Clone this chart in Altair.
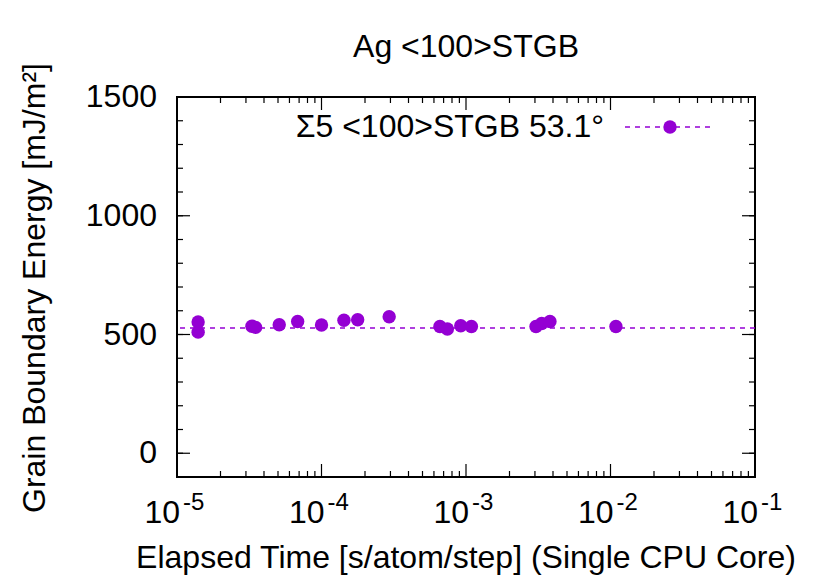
import altair as alt
import pandas as pd

# ---- data ----
elapsed_time = [1.40e-5, 1.40e-5, 3.3e-5, 3.5e-5, 5.1e-5, 6.84e-5, 1.0e-4, 1.43e-4,
                1.78e-4, 2.94e-4, 6.6e-4, 7.43e-4, 9.2e-4, 1.09e-3, 3.05e-3,
                3.34e-3, 3.81e-3, 1.09e-2]
gb_energy = [553, 510, 535, 530, 541, 555, 540, 560, 562, 575, 534, 523, 537,
             534, 534, 546, 555, 534]
reference_energy = 527
series_label = "Σ5 <100>STGB 53.1°"
title_text = "Ag <100>STGB"
x_title = "Elapsed Time [s/atom/step] (Single CPU Core)"
y_title = "Grain Boundary Energy [mJ/m²]"
decades = [1e-5, 1e-4, 1e-3, 1e-2, 1e-1]
decade_exponents = ["-5", "-4", "-3", "-2", "-1"]
y_major = [0, 500, 1000, 1500]
y_major_labels = ["0", "500", "1000", "1500"]
y_minor = list(range(-100, 1501, 100))
x_minor = [m * d for d in decades[:-1] for m in range(2, 10)]

COLOR = "#9400D3"
FONT = "Liberation Sans"
FS = 32
FS_EXP = 24
W, H = 578, 380
MAJ, MIN = 13, 6

xs = alt.Scale(type="log", domain=[1e-5, 1e-1], nice=False)
ys = alt.Scale(domain=[-100, 1500], nice=False, zero=False)

pts = pd.DataFrame({"t": elapsed_time, "e": gb_energy})

refline = alt.Chart(pd.DataFrame({"e": [reference_energy]})).mark_rule(
    color=COLOR, strokeWidth=1.5, strokeDash=[5, 5]
).encode(y=alt.Y("e:Q", scale=ys, axis=None))

points = alt.Chart(pts).mark_circle(size=180, opacity=1, color=COLOR).encode(
    x=alt.X("t:Q", scale=xs, axis=None),
    y=alt.Y("e:Q", scale=ys, axis=None),
)

# inward ticks (gnuplot style, mirrored)
ymin_df = pd.DataFrame({"v": y_minor})
ymaj_df = pd.DataFrame({"v": y_major, "lab": y_major_labels})
xmin_df = pd.DataFrame({"v": x_minor})
xmaj_df = pd.DataFrame({"v": decades, "ex": decade_exponents})

def ytick(df, length, side):
    x0 = 0 if side == "left" else W
    x1 = length if side == "left" else W - length
    return alt.Chart(df).mark_rule(color="black", strokeWidth=1.2).encode(
        y=alt.Y("v:Q", scale=ys, axis=None), x=alt.value(x0), x2=alt.value(x1))

def xtick(df, length, side):
    y0 = H if side == "bottom" else 0
    y1 = H - length if side == "bottom" else length
    return alt.Chart(df).mark_rule(color="black", strokeWidth=1.2).encode(
        x=alt.X("v:Q", scale=xs, axis=None), y=alt.value(y0), y2=alt.value(y1))

ticks = [ytick(ymin_df, MIN, "left"), ytick(ymin_df, MIN, "right"),
         ytick(ymaj_df, MAJ, "left"), ytick(ymaj_df, MAJ, "right"),
         xtick(xmin_df, MIN, "bottom"), xtick(xmin_df, MIN, "top"),
         xtick(xmaj_df, MAJ, "bottom"), xtick(xmaj_df, MAJ, "top")]

# tick labels
ylab = alt.Chart(ymaj_df).mark_text(
    align="right", baseline="middle", font=FONT, fontSize=FS, color="black"
).encode(y=alt.Y("v:Q", scale=ys, axis=None), x=alt.value(-20), text="lab:N")
base_lab = alt.Chart(xmaj_df).mark_text(
    text="10", align="right", baseline="alphabetic", dx=3, font=FONT, fontSize=FS,
    color="black").encode(x=alt.X("v:Q", scale=xs, axis=None), y=alt.value(426))
exp_lab = alt.Chart(xmaj_df).mark_text(
    align="left", baseline="alphabetic", dx=6, font=FONT, fontSize=FS_EXP,
    color="black").encode(x=alt.X("v:Q", scale=xs, axis=None), y=alt.value(413),
                          text="ex:N")

# titles
txt_df = pd.DataFrame({"t": [title_text], "xt": [x_title], "yt": [y_title]})
main_title = alt.Chart(txt_df).mark_text(
    align="center", baseline="alphabetic", font=FONT, fontSize=FS, color="black"
).encode(text="t:N", x=alt.value(W / 2), y=alt.value(-40))
xt = alt.Chart(txt_df).mark_text(
    align="center", baseline="alphabetic", font=FONT, fontSize=FS, color="black"
).encode(text="xt:N", x=alt.value(W / 2), y=alt.value(471))
yt = alt.Chart(txt_df).mark_text(
    align="center", baseline="alphabetic", font=FONT, fontSize=FS, color="black",
    angle=270
).encode(text="yt:N", x=alt.value(-132), y=alt.value(H / 2 + 1))

# legend (key placed in the upper right of the plot)
leg_df = pd.DataFrame({"label": [series_label]})
leg_text = alt.Chart(leg_df).mark_text(
    align="right", baseline="middle", font=FONT, fontSize=FS, color="black"
).encode(text="label:N", x=alt.value(427), y=alt.value(30))
leg_line = alt.Chart(leg_df).mark_rule(
    color=COLOR, strokeWidth=1.5, strokeDash=[5, 5]
).encode(x=alt.value(448), x2=alt.value(533), y=alt.value(30))
leg_pt = alt.Chart(leg_df).mark_circle(size=180, opacity=1, color=COLOR).encode(
    x=alt.value(493), y=alt.value(30))

chart = alt.layer(
    refline, points, *ticks, ylab, base_lab, exp_lab, main_title, xt, yt,
    leg_line, leg_pt, leg_text
).properties(
    width=W, height=H,
    autosize=alt.AutoSizeParams(type="none"),
    padding={"left": 169, "top": 89, "right": 60, "bottom": 110},
).configure_view(stroke="black", strokeWidth=2)

chart.save("out.html", embed_options={"renderer": "svg", "actions": False})
